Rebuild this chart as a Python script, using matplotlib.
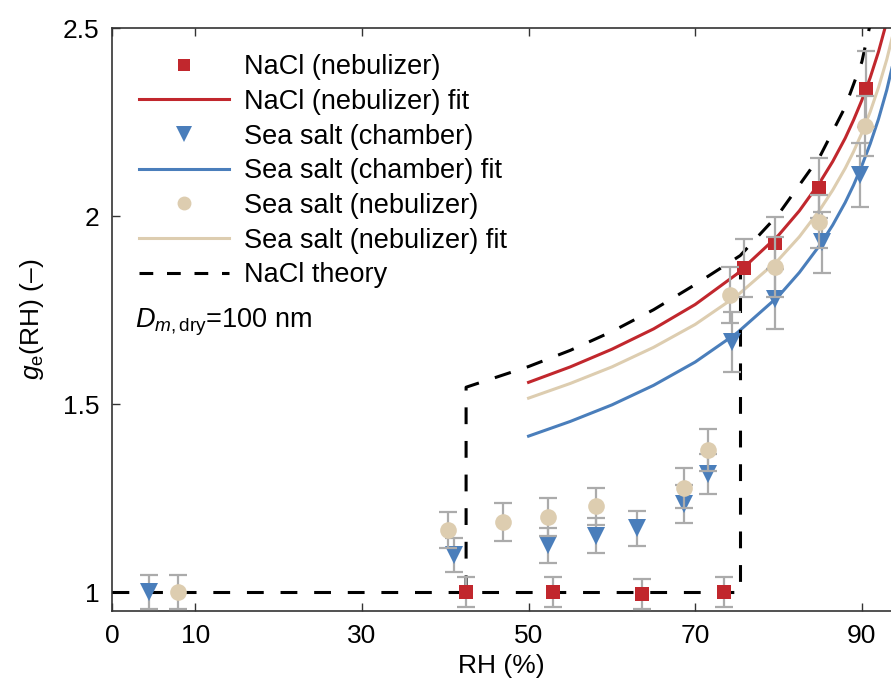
import matplotlib
matplotlib.use("Agg")
import matplotlib.pyplot as plt
from matplotlib.lines import Line2D

plt.rcParams["font.family"] = ["Liberation Sans", "DejaVu Sans"]
plt.rcParams["mathtext.fontset"] = "custom"
plt.rcParams["mathtext.rm"] = "Liberation Sans"
plt.rcParams["mathtext.it"] = "Liberation Sans:italic"

RED = "#c1272d"
BLUE = "#4a7ebb"
BEIGE = "#ddcdb0"
GREY = "#ababab"

# NaCl (nebulizer) measurements
nacl_rh = [42.5, 52.9, 63.6, 73.4, 75.9, 79.6, 84.8, 90.5]
nacl_g = [1.00, 1.00, 0.995, 1.00, 1.862, 1.928, 2.074, 2.338]
nacl_err = [0.04, 0.04, 0.04, 0.04, 0.077, 0.07, 0.08, 0.10]

# Sea salt (chamber) measurements
ssc_rh = [4.4, 41.0, 52.3, 58.1, 63.0, 68.7, 71.5, 74.4, 79.6, 85.2, 89.8]
ssc_g = [1.00, 1.10, 1.125, 1.15, 1.17, 1.234, 1.314, 1.665, 1.78, 1.93, 2.11]
ssc_err = [0.045, 0.045, 0.047, 0.047, 0.047, 0.05, 0.053, 0.08, 0.08, 0.08, 0.085]

# Sea salt (nebulizer) measurements
ssn_rh = [7.9, 40.3, 46.9, 52.3, 58.1, 68.7, 71.5, 74.2, 79.6, 84.9, 90.4]
ssn_g = [1.00, 1.165, 1.186, 1.20, 1.228, 1.277, 1.378, 1.79, 1.865, 1.985, 2.24]
ssn_err = [0.045, 0.048, 0.05, 0.05, 0.05, 0.053, 0.055, 0.075, 0.08, 0.07, 0.08]

# fit curves
fit_rh = [50, 55, 60, 65, 70, 75, 80, 82.5, 85, 86.5, 88, 89, 90, 91, 92, 93, 94]
nacl_fit = [1.558, 1.599, 1.646, 1.700, 1.765, 1.846, 1.949, 2.014, 2.091, 2.145,
            2.207, 2.255, 2.308, 2.368, 2.437, 2.518, 2.615]
ssc_fit = [1.415, 1.454, 1.498, 1.550, 1.612, 1.689, 1.787, 1.850, 1.924, 1.976,
           2.036, 2.082, 2.134, 2.192, 2.258, 2.336, 2.430]
ssn_fit = [1.516, 1.555, 1.599, 1.651, 1.712, 1.788, 1.884, 1.945, 2.018, 2.069,
           2.127, 2.171, 2.221, 2.277, 2.342, 2.417, 2.507]

# NaCl theory: lower (deliquescence) and upper (efflorescence) branches
theory_low_rh = [0, 75.4, 75.4]
theory_low_g = [1.0, 1.0, 1.895]
theory_up_rh = [42.5, 42.5, 50, 55, 60, 65, 70, 75.4, 80, 85, 88, 90, 91.2]
theory_up_g = [1.0, 1.545, 1.600, 1.643, 1.693, 1.751, 1.818, 1.895, 2.005,
               2.160, 2.290, 2.410, 2.53]

fig = plt.figure(figsize=(8.91, 6.87), dpi=100)
ax = fig.add_axes([0.1257, 0.1106, 0.8743, 0.8486])

lw = 2.2
dash = (5.5, 5.5)
ax.plot(fit_rh, ssc_fit, color=BLUE, lw=lw, zorder=2)
ax.plot(fit_rh, ssn_fit, color=BEIGE, lw=lw, zorder=2)
ax.plot(fit_rh, nacl_fit, color=RED, lw=lw, zorder=2)
ax.plot(theory_low_rh, theory_low_g, color="black", lw=lw, dashes=dash, zorder=3)
ax.plot(theory_up_rh, theory_up_g, color="black", lw=lw, dashes=dash, zorder=3)

# each series: error bars first, then its markers; later series sit on top
z = 4
for xs, ys, es, mk, col, ms in [
    (nacl_rh, nacl_g, nacl_err, "s", RED, 10.5),
    (ssc_rh, ssc_g, ssc_err, "v", BLUE, 13),
    (ssn_rh, ssn_g, ssn_err, "o", BEIGE, 12),
]:
    ax.errorbar(xs, ys, yerr=es, fmt="none", ecolor=GREY, elinewidth=1.6,
                capsize=6.5, capthick=1.6, zorder=z)
    ax.plot(xs, ys, linestyle="none", marker=mk, color=col, ms=ms,
            markeredgewidth=0, zorder=z + 0.5)
    z += 1

ax.set_xlim(0, 93.5)
ax.set_ylim(0.95, 2.5)
ax.set_xticks([0, 10, 30, 50, 70, 90])
ax.set_yticks([1, 1.5, 2, 2.5])
ax.set_yticklabels(["1", "1.5", "2", "2.5"])
ax.tick_params(direction="in", length=6, width=1, colors="#333333",
               labelcolor="black", labelsize=19, top=True, pad=9)
for side in ["left", "bottom", "top"]:
    ax.spines[side].set_color("#333333")
    ax.spines[side].set_linewidth(1.2)
ax.spines["right"].set_visible(False)

ax.set_xlabel("RH (%)", fontsize=19, labelpad=5)
ax.set_ylabel(r"$g_\mathrm{e}$(RH) (–)", fontsize=19, labelpad=12)

handles = [
    Line2D([], [], linestyle="none", marker="s", color=RED, ms=9, markeredgewidth=0),
    Line2D([], [], color=RED, lw=lw),
    Line2D([], [], linestyle="none", marker="v", color=BLUE, ms=11, markeredgewidth=0),
    Line2D([], [], color=BLUE, lw=lw),
    Line2D([], [], linestyle="none", marker="o", color=BEIGE, ms=10, markeredgewidth=0),
    Line2D([], [], color=BEIGE, lw=lw),
    Line2D([], [], color="black", lw=lw, dashes=(4.5, 4.5)),
]
labels = ["NaCl (nebulizer)", "NaCl (nebulizer) fit", "Sea salt (chamber)",
          "Sea salt (chamber) fit", "Sea salt (nebulizer)",
          "Sea salt (nebulizer) fit", "NaCl theory"]
ax.legend(handles, labels, loc="upper left", frameon=False, fontsize=19.5,
          handlelength=3.3, handletextpad=0.55, labelspacing=0.32,
          borderaxespad=0.0, borderpad=0.0, bbox_to_anchor=(0.035, 0.955))

ax.text(0.03, 0.495, r"$D_{m,\mathrm{dry}}$=100 nm", transform=ax.transAxes,
        fontsize=19.5, va="center", ha="left")

fig.savefig("out.png", dpi=100)
